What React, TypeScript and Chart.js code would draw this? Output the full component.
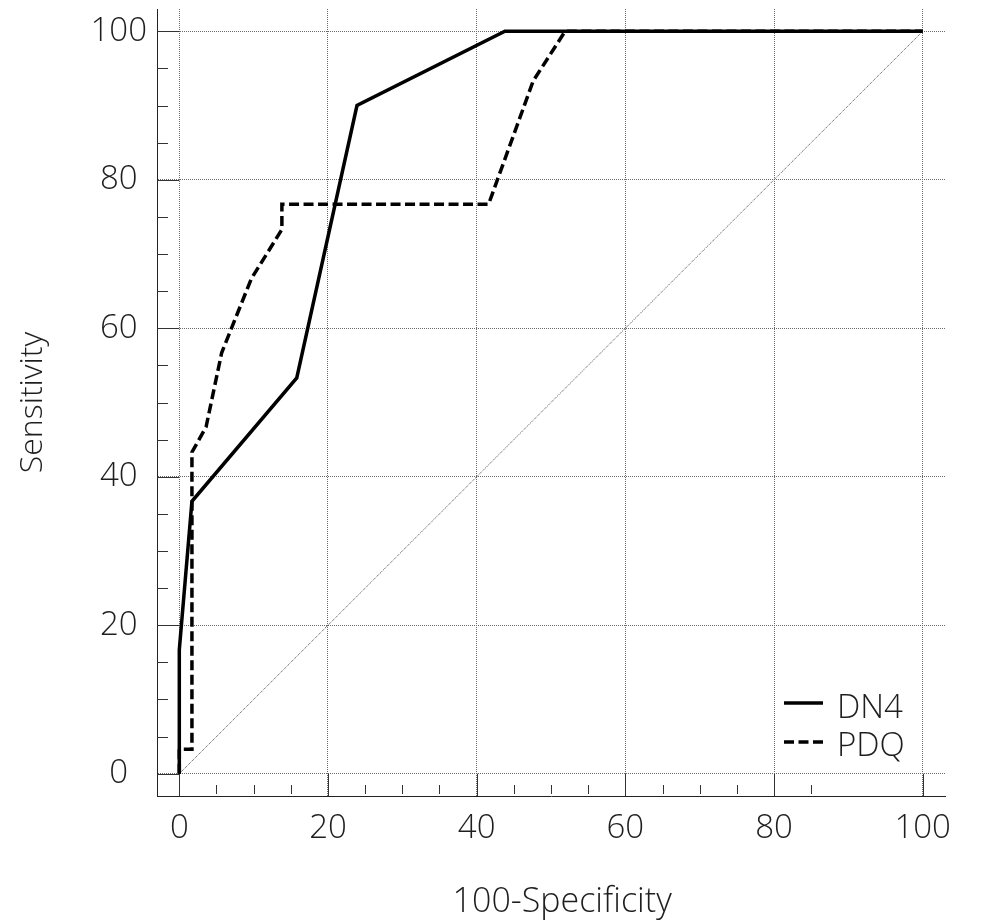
import React, { useEffect, useRef } from "react";
import { Chart, registerables } from "chart.js";

Chart.register(...registerables);

// ---- data ----
const seriesNames = ["DN4", "PDQ"];
const dn4X = [0, 0, 1.7, 15.8, 23.9, 43.8, 100];
const dn4Y = [0, 16.7, 36.7, 53.3, 90, 100, 100];
const pdqX = [0, 0, 1.7, 1.7, 3.6, 5.7, 9.7, 13.8, 13.8, 41.6, 47.6, 51.9, 100];
const pdqY = [0, 3.3, 3.3, 43.3, 46.7, 56.7, 66.7, 73.3, 76.7, 76.7, 93.3, 100, 100];
const refX = [0, 100];
const refY = [0, 100];
const majorTicks = [0, 20, 40, 60, 80, 100];
const yMinorTicks = [5, 10, 15, 25, 30, 35, 45, 50, 55, 65, 70, 75, 85, 90, 95];
const xMinorTicks = [5, 10, 15, 25, 30, 35, 45, 50, 55, 65, 70, 75, 85];
const xTitle = "100-Specificity";
const yTitle = "Sensitivity";

const FONT = "'Open Sans', 'Noto Sans', 'DejaVu Sans', sans-serif";
const WEIGHT = 300;
const TEXT = "#1e1e1e";

const toPts = (xs: number[], ys: number[]) => xs.map((x, i) => ({ x, y: ys[i] }));

const decorPlugin = {
  id: "decor",
  beforeDatasetsDraw(chart: any) {
    const { ctx, chartArea: ca } = chart;
    const xs = chart.scales.x;
    const ys = chart.scales.y;
    const x0 = xs.getPixelForValue(0);
    const y0 = ys.getPixelForValue(0);
    ctx.save();
    ctx.strokeStyle = "#333";
    ctx.lineWidth = 1;
    ctx.setLineDash([]);
    ctx.beginPath();
    for (const v of majorTicks) {
      const py = Math.round(ys.getPixelForValue(v)) + 0.5;
      ctx.moveTo(ca.left, py);
      ctx.lineTo(x0, py);
      const px = Math.round(xs.getPixelForValue(v)) + 0.5;
      ctx.moveTo(px, y0);
      ctx.lineTo(px, ca.bottom);
    }
    for (const v of yMinorTicks) {
      const py = Math.round(ys.getPixelForValue(v)) + 0.5;
      ctx.moveTo(ca.left, py);
      ctx.lineTo(ca.left + 11, py);
    }
    for (const v of xMinorTicks) {
      const px = Math.round(xs.getPixelForValue(v)) + 0.5;
      ctx.moveTo(px, ca.bottom - 11);
      ctx.lineTo(px, ca.bottom - 2);
    }
    ctx.stroke();
    ctx.restore();
  },
  afterDraw(chart: any) {
    const { ctx, chartArea: ca } = chart;
    const xs = chart.scales.x;
    ctx.save();
    ctx.fillStyle = TEXT;
    // axis titles
    ctx.textAlign = "center";
    ctx.textBaseline = "alphabetic";
    ctx.font = `${WEIGHT} 34px ${FONT}`;
    ctx.fillText(xTitle, (xs.getPixelForValue(0) + ca.right) / 2, ca.bottom + 116);
    ctx.font = `${WEIGHT} 32px ${FONT}`;
    ctx.save();
    ctx.translate(42, (ca.top + ca.bottom) / 2);
    ctx.rotate(-Math.PI / 2);
    ctx.fillText(yTitle, 0, 0);
    ctx.restore();
    // legend
    const ds = chart.data.datasets;
    const rows = [
      { ds: ds[0], lineY: ca.bottom - 93, textY: ca.bottom - 78 },
      { ds: ds[1], lineY: ca.bottom - 54, textY: ca.bottom - 40 },
    ];
    ctx.font = `${WEIGHT} 33px ${FONT}`;
    ctx.textAlign = "left";
    for (const r of rows) {
      ctx.strokeStyle = r.ds.borderColor;
      ctx.lineWidth = r.ds.borderWidth;
      ctx.setLineDash(r.ds.borderDash || []);
      ctx.beginPath();
      ctx.moveTo(ca.right - 161, r.lineY);
      ctx.lineTo(ca.right - 122, r.lineY);
      ctx.stroke();
      ctx.setLineDash([]);
      ctx.fillText(r.ds.label, ca.right - 108, r.textY);
    }
    ctx.restore();
  },
};

export default function App() {
  const ref = useRef<HTMLCanvasElement | null>(null);
  useEffect(() => {
    if (!ref.current) return;
    const gridCommon = {
      color: "#6a6a6a",
      lineWidth: 1,
      drawTicks: false,
    };
    const chart = new Chart(ref.current, {
      type: "line",
      data: {
        datasets: [
          {
            label: seriesNames[0],
            data: toPts(dn4X, dn4Y),
            borderColor: "#000",
            borderWidth: 3.5,
            pointRadius: 0,
            fill: false,
            tension: 0,
          },
          {
            label: seriesNames[1],
            data: toPts(pdqX, pdqY),
            borderColor: "#000",
            borderWidth: 3.5,
            borderDash: [10, 4.5],
            pointRadius: 0,
            fill: false,
            tension: 0,
          },
          {
            label: "reference",
            data: toPts(refX, refY),
            borderColor: "#444",
            borderWidth: 1,
            borderDash: [1, 1],
            pointRadius: 0,
            fill: false,
          },
        ],
      },
      options: {
        responsive: false,
        animation: false,
        devicePixelRatio: 1,
        layout: { padding: { top: 9, right: 43, left: 0, bottom: 0 } },
        plugins: { legend: { display: false }, tooltip: { enabled: false } },
        scales: {
          x: {
            type: "linear",
            min: -3,
            max: 103,
            afterBuildTicks: (s: any) => {
              s.ticks = majorTicks.map((v) => ({ value: v }));
            },
            afterFit: (s: any) => {
              s.height = 126;
              s.paddingLeft = 0;
              s.paddingRight = 0;
            },
            grid: gridCommon,
            border: { display: true, color: "#222", width: 1, dash: [1, 1] },
            ticks: {
              padding: 13,
              color: TEXT,
              font: { family: FONT, size: 33, weight: WEIGHT },
              maxRotation: 0,
              autoSkip: false,
            },
          },
          y: {
            type: "linear",
            min: -3,
            max: 103,
            afterBuildTicks: (s: any) => {
              s.ticks = majorTicks.map((v) => ({ value: v }));
            },
            afterFit: (s: any) => {
              s.width = 157;
              s.paddingTop = 0;
              s.paddingBottom = 0;
            },
            grid: gridCommon,
            border: { display: true, color: "#222", width: 1, dash: [1, 1] },
            ticks: {
              padding: 10,
              crossAlign: "center",
              color: TEXT,
              font: { family: FONT, size: 33, weight: WEIGHT },
              autoSkip: false,
            },
          },
        },
      },
      plugins: [decorPlugin],
    } as any);
    return () => chart.destroy();
  }, []);
  return (
    <canvas
      ref={ref}
      width={988}
      height={922}
      style={{ display: "block", position: "fixed", left: 0, top: 0, width: 988, height: 922 }}
    />
  );
}
